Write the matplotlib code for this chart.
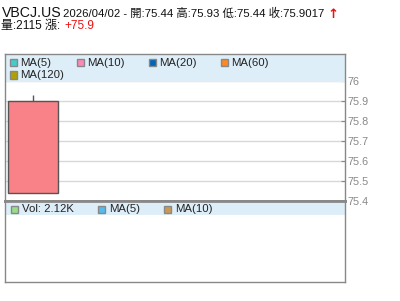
import matplotlib.pyplot as plt
from matplotlib.patches import Rectangle

plt.rcParams['font.family'] = ['Liberation Sans', 'Noto Sans CJK TC', 'DejaVu Sans']

symbol = "VBCJ.US"
date = "2026/04/02"
open_, high, low, close = 75.44, 75.93, 75.44, 75.9017
volume = 2115
change = 75.9

price_ticks = [75.4, 75.5, 75.6, 75.7, 75.8, 75.9, 76]
ma_labels = ["MA(5)", "MA(10)", "MA(20)", "MA(60)", "MA(120)"]
ma_colors = ["#44cccc", "#ff88bb", "#0066bb", "#ff8822", "#b0a000"]
vol_labels = ["Vol: %.2fK" % (volume / 1000), "MA(5)", "MA(10)"]
vol_colors = ["#99dd88", "#55bbee", "#cc9955"]

W, H = 400, 301
fig = plt.figure(figsize=(4, 3.01), dpi=100)


def fx(px):
    return px / W


def fy(py):
    return 1 - py / H


band = "#ddeef9"
edge = "#888888"

# main price panel
ax = fig.add_axes([fx(5), fy(201), fx(340), (201 - 54) / H])
ax.set_xlim(-0.56, 6.24)
ax.set_ylim(75.4, 75.4 + 147 / 200)
ax.set_axisbelow(True)
ax.grid(axis='y', color='#d8d8d8', linewidth=1)
ax.set_yticks(price_ticks)
ax.set_yticklabels([("%g" % t) for t in price_ticks])
ax.yaxis.tick_right()
ax.tick_params(axis='y', direction='in', length=3, color=edge, labelcolor='#888888',
               labelsize=7.8, pad=2)
ax.set_xticks([])
for s in ax.spines.values():
    s.set_color(edge)
    s.set_linewidth(1)
ax.spines['bottom'].set_linewidth(2)

ax.add_patch(Rectangle((0, 1 - 28 / 147), 1, 28 / 147, transform=ax.transAxes,
                       facecolor=band, edgecolor='none', zorder=1))

# candle
ax.vlines(0, close, high, color='#555555', linewidth=1, zorder=3)
ax.bar(0, close - open_, bottom=open_, width=1.0, color='#f98289',
       edgecolor='#555555', linewidth=1, zorder=3)

ma_pos = [(10, 63), (77, 63), (149, 63), (221, 63), (10, 75)]
for (px, py), lab, col in zip(ma_pos, ma_labels, ma_colors):
    fig.patches.append(Rectangle((fx(px), fy(py + 3.5)), fx(7), 7 / H, transform=fig.transFigure,
                                 facecolor=col, edgecolor='#888888', linewidth=1, zorder=5))
    fig.text(fx(px + 10), fy(py), lab, fontsize=8.2, color='#222222', va='center', ha='left')

# volume panel
axv = fig.add_axes([fx(5), fy(282), fx(340), (282 - 201) / H])
axv.set_xlim(ax.get_xlim())
axv.set_ylim(0, 1)
axv.set_xticks([])
axv.set_yticks([])
for s in axv.spines.values():
    s.set_color(edge)
    s.set_linewidth(1)
axv.spines['top'].set_linewidth(2)
axv.add_patch(Rectangle((0, 1 - 14 / 81), 1, 13 / 81, transform=axv.transAxes,
                        facecolor=band, edgecolor='none', zorder=1))

vol_pos = [(11, 209), (98, 209), (164, 209)]
for (px, py), lab, col in zip(vol_pos, vol_labels, vol_colors):
    fig.patches.append(Rectangle((fx(px), fy(py + 3.5)), fx(7), 7 / H, transform=fig.transFigure,
                                 facecolor=col, edgecolor='#888888', linewidth=1, zorder=5))
    fig.text(fx(px + 11), fy(py), lab, fontsize=8.2, color='#222222', va='center', ha='left')

# header
fig.text(fx(2), fy(13), symbol, fontsize=10.2, color='#111111', va='center')
fig.text(fx(63), fy(13),
         "%s - 開:%.2f 高:%.2f 低:%.2f 收:%.4f" % (date, open_, high, low, close),
         fontsize=8.2, color='#111111', va='center')
fig.text(fx(327), fy(14), "↑", fontsize=9.5, color='#ee1111', va='center', fontweight='bold',
         family='DejaVu Sans')
fig.text(fx(1), fy(26), "量:%d 漲:" % volume, fontsize=8.6, color='#111111', va='center')
fig.text(fx(64), fy(26), "+%.1f" % change, fontsize=8.6, color='#ee1111', va='center')

fig.savefig("out.png", dpi=100)
